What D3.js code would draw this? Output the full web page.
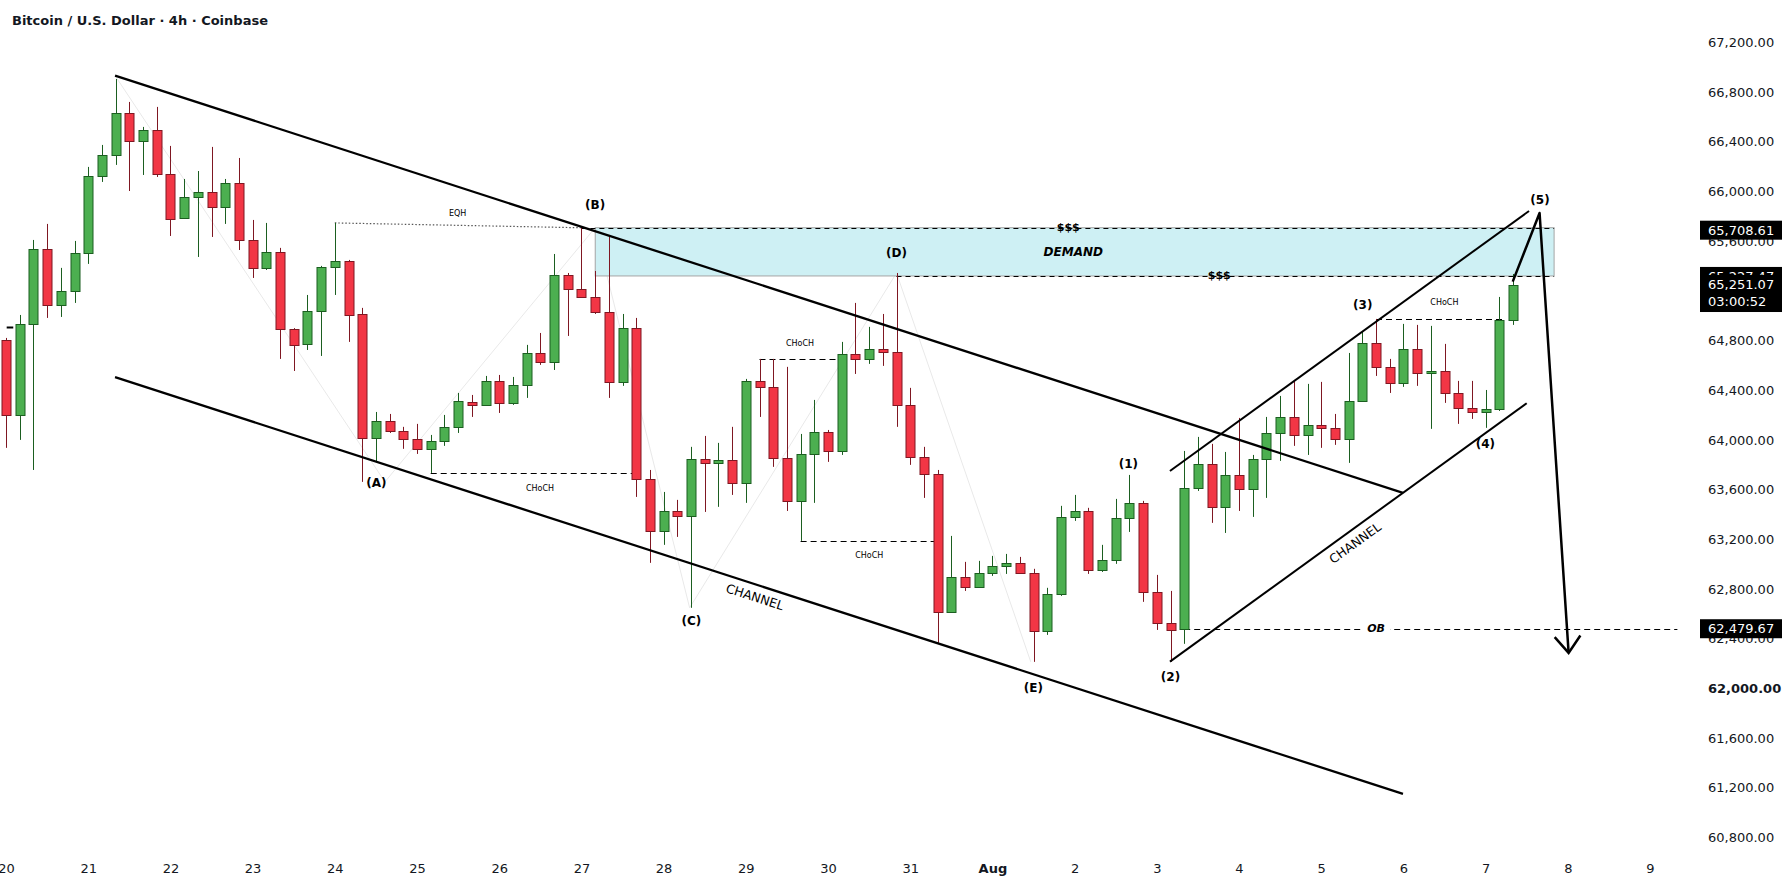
<!DOCTYPE html>
<html>
<head>
<meta charset="utf-8">
<script src="https://cdn.jsdelivr.net/npm/d3@7"></script>
<style>
  body { margin: 0; background: #fff; }
  svg text { font-family: "DejaVu Sans", Verdana, sans-serif; fill: #131722; }
</style>
</head>
<body>
<div id="chart"></div>
<script>
// BTCUSD 4h, Coinbase - velas de 4 hores des del 20 de juliol 00:00
const opens = [
  64805, 64201, 64934, 65538, 65087, 65199, 65505, 66125, 66294, 66632,
  66407, 66495, 66141, 65787, 65956, 65996, 65876, 66069, 65610, 65385,
  65513, 64894, 64773, 65038, 65393, 65441, 65014, 64016, 64153, 64072,
  64008, 63928, 63992, 64105, 64306, 64282, 64475, 64298, 64443, 64700,
  64628, 65328, 65216, 65151, 65030, 64467, 64902, 63686, 63267, 63428,
  63388, 63847, 63815, 63839, 63654, 64475, 64427, 63855, 63509, 63887,
  64064, 63911, 64692, 64652, 64733, 64708, 64282, 63863, 63726, 62615,
  62897, 62817, 62929, 62986, 63010, 62929, 62462, 62760, 63380, 63428,
  62953, 63034, 63372, 63493, 62776, 62527, 62479.67, 63614, 63807, 63461,
  63718, 63606, 63847, 64056, 64185, 64040, 64121, 64097, 64008, 64314,
  64781, 64588, 64459, 64733, 64539, 64555, 64378, 64258, 64225, 64250,
  64966
];
const highs = [
  64821, 65006, 65610, 65739, 65385, 65602, 66198, 66375, 66906, 66721,
  66520, 66681, 66367, 66101, 66165, 66359, 66101, 66270, 65771, 65747,
  65546, 64900, 65167, 65401, 65747, 65449, 65063, 64225, 64209, 64105,
  64129, 64040, 64201, 64378, 64362, 64515, 64523, 64507, 64765, 64861,
  65497, 65344, 65708, 65360, 65650, 65014, 64982, 63758, 63581, 63517,
  63944, 64032, 63976, 64105, 64491, 64652, 64652, 64588, 64048, 64322,
  64080, 64789, 65103, 64910, 65014, 65344, 64419, 63944, 63758, 63227,
  63018, 63026, 63066, 63082, 63058, 62962, 62809, 63469, 63557, 63453,
  63155, 63525, 63718, 63509, 62913, 62784, 63911, 64024, 63968, 63903,
  64177, 63879, 64185, 64354, 64483, 64451, 64467, 64209, 64700, 64877,
  64974, 64652, 64934, 64926, 64918, 64773, 64475, 64475, 64402, 65151,
  65336
];
const lows = [
  63936, 64000, 63758, 64982, 64990, 65103, 65417, 66077, 66214, 66004,
  66133, 66117, 65642, 65787, 65473, 65634, 65739, 65529, 65304, 65368,
  64652, 64555, 64724, 64676, 65167, 64789, 63662, 63823, 64056, 63928,
  63887, 63734, 63952, 64056, 64185, 64282, 64217, 64282, 64338, 64604,
  64563, 64837, 65151, 65014, 64338, 64435, 63541, 63010, 63155, 63219,
  62648, 63420, 63461, 63557, 63493, 64185, 63783, 63428, 63187, 63493,
  63823, 63879, 64531, 64612, 64596, 64105, 63799, 63533, 62366, 62615,
  62784, 62817, 62905, 62921, 62929, 62213, 62430, 62744, 63348, 62921,
  62937, 63002, 63259, 62696, 62470, 62213, 62358, 63589, 63332, 63251,
  63428, 63380, 63533, 63831, 63952, 63879, 63936, 63960, 63815, 64314,
  64515, 64378, 64427, 64435, 64089, 64298, 64129, 64169, 64097, 64233,
  64926
];
const closes = [
  64201, 64934, 65538, 65087, 65199, 65505, 66125, 66294, 66632, 66407,
  66495, 66141, 65779, 65956, 65996, 65876, 66069, 65610, 65385, 65513,
  64894, 64765, 65038, 65393, 65441, 65006, 64016, 64153, 64072, 64008,
  63928, 63992, 64105, 64314, 64282, 64475, 64298, 64443, 64700, 64628,
  65328, 65216, 65151, 65030, 64467, 64902, 63686, 63267, 63428, 63388,
  63847, 63815, 63839, 63654, 64475, 64427, 63855, 63509, 63887, 64064,
  63911, 64692, 64652, 64733, 64708, 64282, 63863, 63726, 62615, 62897,
  62817, 62929, 62986, 63010, 62929, 62462, 62760, 63380, 63428, 62953,
  63034, 63372, 63493, 62776, 62527, 62470, 63614, 63807, 63461, 63718,
  63606, 63847, 64056, 64185, 64040, 64121, 64097, 64008, 64314, 64781,
  64588, 64459, 64733, 64539, 64555, 64378, 64258, 64225, 64250, 64966,
  65251.07
];

// Etiquetes dels eixos
const priceTicks = [60800, 61200, 61600, 62000, 62400, 62800, 63200, 63600, 64000,
  64400, 64800, 65200, 65600, 66000, 66400, 66800, 67200];
const dayLabels = ["20", "21", "22", "23", "24", "25", "26", "27", "28", "29", "30", "31",
  "Aug", "2", "3", "4", "5", "6", "7", "8", "9"];
const boldTick = 62000;

// Caixes de preu a l'eix (nivells marcats)
const demandTop = 65708.61;
const linePrice = 65227.47;
const lastPrice = 65251.07;
const countdown = "03:00:52";
const obPrice = 62479.67;
const demandBottom = 65320;

// Dibuixos: punts [índex de vela, preu]
const channelLines = [
  [[7.96, 66933], [101.97, 63573]],
  [[7.96, 64505], [101.97, 61150]]
];
const risingLines = [
  [[84.96, 63750], [111.17, 65843]],
  [[84.96, 62215], [111.0, 64295]]
];
const wavePath = [[109.98, 65274], [111.94, 65827], [114.06, 62285]];
const zigzag = [[7.96, 66933], [27.66, 63662], [43, 65708], [49.9, 62648], [65, 65344], [74.8, 62213]];
const eqhLine = [[24, 65747], [42, 65708]];
const chochLevels = [[31, 46, 63734], [55, 61, 64652], [58, 68, 63187], [100, 109.4, 64974]];
const chochLabels = [[38.98, 63606], [57.96, 64773], [63.01, 63069], [104.99, 65105]];
const zoneSpan = [43.01, 113.0];
const sssLevels = [[42, 113.0, demandTop], [65, 113.0, demandBottom]];
const sssLabels = [[77.54, demandTop], [88.56, demandBottom]];
const obLine = [86, 122.0, obPrice];
const startMark = [0.05, 0.53, 64910];
const waveLabels = [
  ["(A)", 27.04, 63657], ["(B)", 43.0, 65892], ["(C)", 50.03, 62545], ["(D)", 65.0, 65503],
  ["(E)", 74.99, 62000], ["(1)", 81.93, 63804], ["(2)", 85.0, 62094], ["(3)", 99.03, 65087],
  ["(4)", 107.98, 63965], ["(5)", 111.97, 65932]
];
const channelLabels = [[54.67, 62736], [98.47, 63171]];

// Geometria
const W = 1789, H = 882;
const plotW = 1700, plotH = 856;
const barStep = 13.7, firstX = 6;
const startTime = new Date(2024, 6, 20, 0, 0);
const H4 = 4 * 3600 * 1000;
const at = i => new Date(startTime.getTime() + i * H4);

const x = d3.scaleTime()
  .domain([at(-firstX / barStep), at((plotW - firstX) / barStep)])
  .range([0, plotW]);
const y = d3.scaleLinear().domain([62000, 66000]).range([688.3, 191.5]);
const px = p => [x(at(p[0])), y(p[1])];

const svg = d3.select("#chart").append("svg")
  .attr("width", W).attr("height", H);

svg.append("defs").append("clipPath").attr("id", "plot-clip")
  .append("rect").attr("width", plotW).attr("height", plotH);

const plot = svg.append("g").attr("clip-path", "url(#plot-clip)");

// Línies grises tènues de l'onada ABCDE
plot.append("path")
  .attr("d", d3.line()(zigzag.map(px)))
  .attr("fill", "none").attr("stroke", "#e9e9e9").attr("stroke-width", 1);

// Zona de demanda
plot.append("rect")
  .attr("x", x(at(zoneSpan[0])))
  .attr("y", y(demandTop))
  .attr("width", x(at(zoneSpan[1])) - x(at(zoneSpan[0])))
  .attr("height", y(demandBottom) - y(demandTop))
  .attr("fill", "#cef0f4").attr("stroke", "#a5a5a5").attr("stroke-width", 1);

// Nivells discontinus
const hLine = (from, to, price, dash, color, width) => plot.append("line")
  .attr("x1", x(at(from))).attr("x2", x(at(to)))
  .attr("y1", Math.round(y(price)) + 0.5).attr("y2", Math.round(y(price)) + 0.5)
  .attr("stroke", color || "#000").attr("stroke-width", width || 1)
  .attr("stroke-dasharray", dash);

sssLevels.forEach(d => hLine(d[0], d[1], d[2], "5,4"));
chochLevels.forEach(d => hLine(d[0], d[1], d[2], "6,4"));
hLine(obLine[0], obLine[1], obLine[2], "6,4");
hLine(startMark[0], startMark[1], startMark[2], null, "#000", 2);

plot.append("line")
  .attr("x1", px(eqhLine[0])[0]).attr("y1", px(eqhLine[0])[1])
  .attr("x2", px(eqhLine[1])[0]).attr("y2", px(eqhLine[1])[1])
  .attr("stroke", "#555").attr("stroke-width", 1.2).attr("stroke-dasharray", "1.5,2");

// Veles
const candles = plot.append("g").selectAll("g")
  .data(opens.map((o, i) => ({ i, o, h: highs[i], l: lows[i], c: closes[i] })))
  .join("g");

candles.each(function (d) {
  const g = d3.select(this);
  const up = d.c >= d.o;
  const cx = Math.round(x(at(d.i))) + 0.5;
  const edge = up ? "#1b5e20" : "#7f1722";
  const fill = up ? "#4caf50" : "#f23645";
  const top = y(Math.max(d.o, d.c));
  const bot = y(Math.min(d.o, d.c));
  g.append("line")
    .attr("x1", cx).attr("x2", cx)
    .attr("y1", y(d.h)).attr("y2", y(d.l))
    .attr("stroke", edge).attr("stroke-width", 1);
  g.append("rect")
    .attr("x", cx - 4.5).attr("width", 9)
    .attr("y", Math.round(top) + 0.5)
    .attr("height", Math.max(1, Math.round(bot - top)))
    .attr("fill", fill).attr("stroke", edge).attr("stroke-width", 1);
});

// Canals
channelLines.forEach(l => plot.append("path")
  .attr("d", d3.line()(l.map(px)))
  .attr("stroke", "#000").attr("stroke-width", 2.3).attr("fill", "none"));
risingLines.forEach(l => plot.append("path")
  .attr("d", d3.line()(l.map(px)))
  .attr("stroke", "#000").attr("stroke-width", 2).attr("fill", "none"));

// Onada 5 i fletxa cap avall
const wavePts = wavePath.map(px);
plot.append("path")
  .attr("d", d3.line()(wavePts))
  .attr("stroke", "#000").attr("stroke-width", 2.5).attr("fill", "none")
  .attr("stroke-linejoin", "round");
const tip = wavePts[wavePts.length - 1], prev = wavePts[wavePts.length - 2];
const back = Math.atan2(prev[1] - tip[1], prev[0] - tip[0]);
const wing = a => [tip[0] + 21 * Math.cos(back + a), tip[1] + 21 * Math.sin(back + a)];
plot.append("path")
  .attr("d", d3.line()([wing(-0.66), tip, wing(0.66)]))
  .attr("stroke", "#000").attr("stroke-width", 2.5).attr("fill", "none")
  .attr("stroke-linejoin", "miter");

// Textos de les anotacions
const label = (p, txt, size, weight, style) => plot.append("text")
  .attr("x", px(p)[0]).attr("y", px(p)[1])
  .attr("text-anchor", "middle").attr("dominant-baseline", "central")
  .attr("font-size", size).attr("font-weight", weight || "normal")
  .attr("font-style", style || "normal")
  .style("fill", "#000")
  .text(txt);

waveLabels.forEach(d => label([d[1], d[2]], d[0], 12, "bold"));
chochLabels.forEach(d => label(d, "CHoCH", 8));
label([32.97, 65819], "EQH", 8);
sssLabels.forEach(d => label(d, "$$$", 11, "bold"));
label([77.9, 65516], "DEMAND", 12, "bold", "italic");

// OB amb fons blanc
const obPos = px([100.0, obPrice]);
plot.append("rect")
  .attr("x", obPos[0] - 14).attr("y", obPos[1] - 7)
  .attr("width", 28).attr("height", 14).attr("fill", "#fff");
label([100.0, obPrice], "OB", 11, "bold", "italic");

// CHANNEL girat segons el pendent de cada canal
[channelLines[1], risingLines[1]].forEach((l, k) => {
  const a = px(l[0]), b = px(l[1]);
  const ang = Math.atan2(b[1] - a[1], b[0] - a[0]) * 180 / Math.PI;
  const c = px(channelLabels[k]);
  plot.append("text")
    .attr("transform", `translate(${c[0]},${c[1]}) rotate(${ang})`)
    .attr("text-anchor", "middle").attr("dominant-baseline", "central")
    .attr("font-size", 12.5)
    .style("fill", "#000")
    .text("CHANNEL");
});

// Eix de temps
const dayTicks = d3.timeDay.range(new Date(2024, 6, 20), new Date(2024, 7, 10));
const xAxis = svg.append("g")
  .attr("transform", `translate(0,${plotH + 2})`)
  .call(d3.axisBottom(x).tickValues(dayTicks).tickSize(0).tickPadding(6)
    .tickFormat((d, i) => dayLabels[i]));
xAxis.select(".domain").remove();
xAxis.selectAll("text")
  .attr("font-size", 13)
  .attr("font-family", "DejaVu Sans")
  .attr("font-weight", (d, i) => dayLabels[i] === "Aug" ? "bold" : "normal")
  .style("fill", "#131722");

// Eix de preus
const yAxis = svg.append("g")
  .attr("transform", "translate(1708,0)")
  .call(d3.axisRight(y).tickValues(priceTicks).tickSize(0).tickPadding(0)
    .tickFormat(d3.format(",.2f")));
yAxis.select(".domain").remove();
yAxis.selectAll("text")
  .attr("font-size", 13)
  .attr("font-family", "DejaVu Sans")
  .attr("font-weight", d => d === boldTick ? "bold" : "normal")
  .style("fill", "#131722");

// Caixes negres de preu
const fmt = d3.format(",.2f");
const priceBox = (cy, txt, h) => {
  svg.append("rect")
    .attr("x", 1700).attr("y", cy - 9.5)
    .attr("width", 82).attr("height", h || 19)
    .attr("fill", "#000");
  svg.append("text")
    .attr("x", 1708).attr("y", cy).attr("dy", "0.35em")
    .attr("font-size", 13).style("fill", "#fff")
    .text(txt);
};
priceBox(y(demandTop) + 2.5, fmt(demandTop));
priceBox(y(linePrice) - 11, fmt(linePrice));
priceBox(y(lastPrice), fmt(lastPrice), 37);
svg.append("text")
  .attr("x", 1708).attr("y", y(lastPrice) + 17).attr("dy", "0.35em")
  .attr("font-size", 13).style("fill", "#fff")
  .text(countdown);
priceBox(y(obPrice), fmt(obPrice));

// Títol
svg.append("text")
  .attr("x", 12).attr("y", 25)
  .attr("font-size", 13).attr("font-weight", "bold")
  .style("fill", "#131722")
  .text("Bitcoin / U.S. Dollar · 4h · Coinbase");
</script>
</body>
</html>
